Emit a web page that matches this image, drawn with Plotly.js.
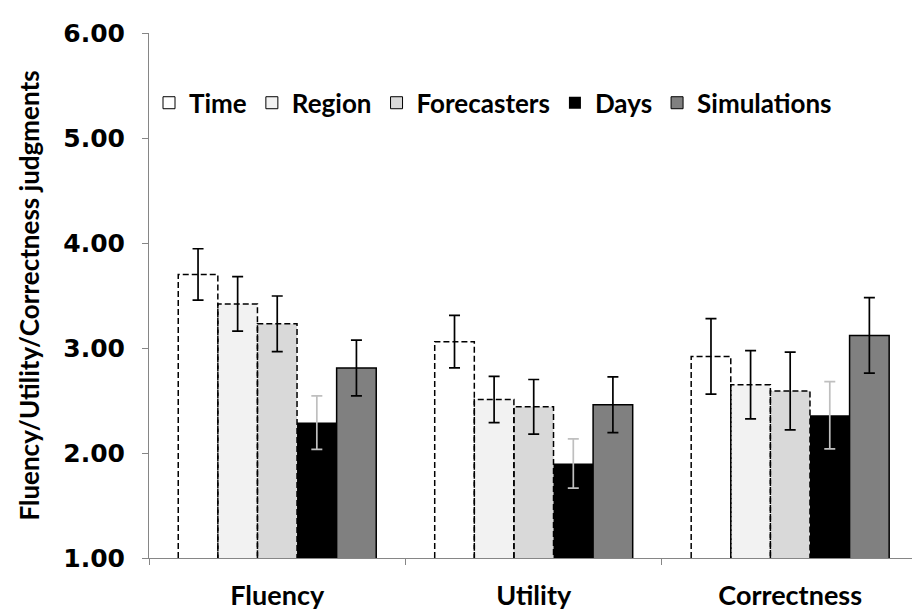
<!DOCTYPE html>
<html>
<head>
<meta charset="utf-8">
<script src="https://cdn.plot.ly/plotly-3.0.1.min.js"></script>
<style>html,body{margin:0;padding:0;background:#fff;}#chart{width:912px;height:611px;}</style>
</head>
<body>
<div id="chart"></div>
<script>
// ---- data ----
const categories = ["Fluency", "Utility", "Correctness"];
const seriesNames = ["Time", "Region", "Forecasters", "Days", "Simulations"];
const timeVals = [3.70, 3.06, 2.92];
const timeErr = [0.245, 0.25, 0.36];
const regionVals = [3.42, 2.51, 2.65];
const regionErr = [0.26, 0.22, 0.325];
const forecastersVals = [3.23, 2.44, 2.59];
const forecastersErr = [0.265, 0.26, 0.37];
const daysVals = [2.29, 1.90, 2.36];
const daysErr = [0.255, 0.235, 0.32];
const simulationsVals = [2.81, 2.46, 3.12];
const simulationsErr = [0.265, 0.265, 0.36];
const yTickVals = [1, 2, 3, 4, 5, 6];

// ---- styling ----
const vals = [timeVals, regionVals, forecastersVals, daysVals, simulationsVals];
const errs = [timeErr, regionErr, forecastersErr, daysErr, simulationsErr];
const fills = ["#ffffff", "#f2f2f2", "#d9d9d9", "#000000", "#808080"];
const dashed = [true, true, true, false, false];
const solidLine = [0, 0, 0, 0, 1.5];
const errColors = ["#000", "#000", "#000", "#bfbfbf", "#000"];
const groupW = 0.772;
const w = groupW / 5;
const base = 1;
const calibri = "Lato, 'Open Sans', sans-serif";

const traces = [];
// legend-only entries
seriesNames.forEach((name, i) => {
  traces.push({
    type: "bar", name: name, x: categories, y: categories.map(() => null),
    marker: { color: fills[i], line: { color: "#000", width: i === 3 ? 0 : 1 } },
    showlegend: true, hoverinfo: "skip"
  });
});
// actual bars
seriesNames.forEach((name, i) => {
  traces.push({
    type: "bar", name: name, x: categories, y: vals[i],
    offset: -groupW / 2 + i * w, width: w,
    marker: { color: fills[i], line: { color: "#000", width: solidLine[i] } },
    error_y: { type: "data", array: errs[i], visible: true, color: errColors[i], thickness: 1.7, width: 5.5 },
    showlegend: false
  });
});
// dashed outlines
seriesNames.forEach((name, i) => {
  if (!dashed[i]) return;
  const xs = [], ys = [];
  categories.forEach((c, g) => {
    const x0 = g - groupW / 2 + i * w, x1 = x0 + w;
    xs.push(x0, x0, x1, x1, null);
    ys.push(base, vals[i][g], vals[i][g], base, null);
  });
  traces.push({
    type: "scatter", mode: "lines", x: xs, y: ys, xaxis: "x2", yaxis: "y",
    line: { color: "#000", width: 1.5, dash: "6px,3px" },
    showlegend: false, hoverinfo: "skip"
  });
});

const xRange = [-0.5, 2.475];
const layout = {
  width: 912, height: 611,
  margin: { l: 149, r: 0, t: 33, b: 53 },
  paper_bgcolor: "#fff", plot_bgcolor: "#fff",
  barmode: "overlay",
  showlegend: true,
  legend: {
    orientation: "h", x: 0.0, xanchor: "left", y: 0.867, yanchor: "middle",
    font: { family: calibri, size: 26, color: "#000", weight: "bold" },
    itemwidth: 30, tracegroupgap: 0, bgcolor: "rgba(0,0,0,0)"
  },
  xaxis: {
    type: "category", categoryorder: "array", categoryarray: categories,
    range: xRange, showline: true, linecolor: "#868686", linewidth: 1,
    ticks: "outside", tickson: "boundaries", ticklen: 6, tickcolor: "#868686",
    showgrid: false, zeroline: false, ticklabelstandoff: 14,
    tickfont: { family: calibri, size: 27, color: "#000", weight: "bold" }
  },
  xaxis2: { type: "linear", overlaying: "x", range: xRange, visible: false },
  yaxis: {
    range: [1, 6], tickvals: yTickVals, tickformat: ".2f",
    showline: true, linecolor: "#868686", linewidth: 1,
    ticks: "outside", ticklen: 6, tickcolor: "#868686",
    showgrid: false, zeroline: false, ticklabelstandoff: 12, automargin: true,
    tickfont: { family: "'DejaVu Sans', sans-serif", size: 25, color: "#000", weight: "bold" },
    title: { text: "Fluency/Utility/Correctness judgments", standoff: 16, font: { family: calibri, size: 26, color: "#000", weight: "bold" } }
  }
};

Plotly.newPlot("chart", traces, layout, { displayModeBar: false, staticPlot: true });
</script>
</body>
</html>
